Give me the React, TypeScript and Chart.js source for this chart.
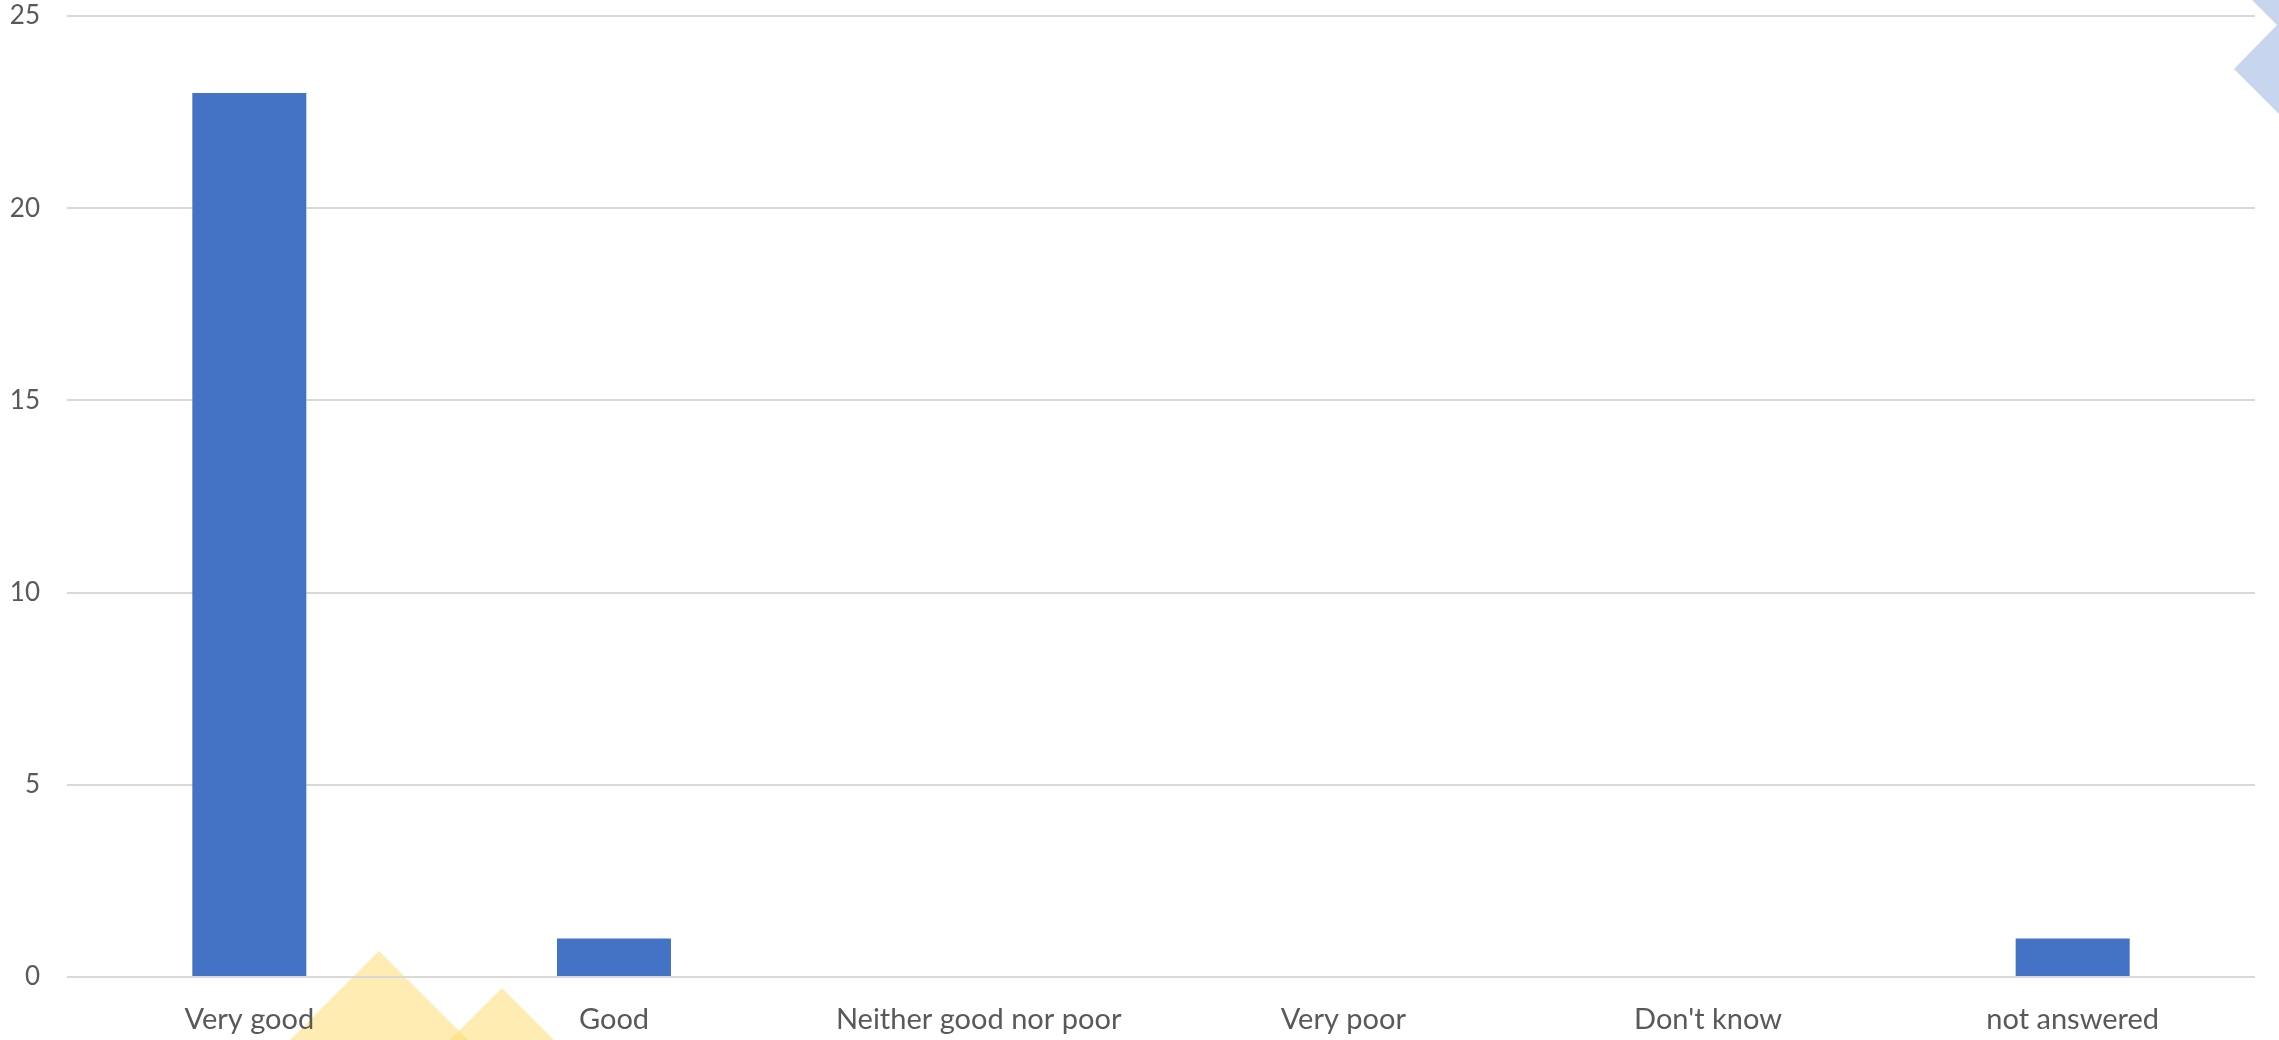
import React, { useEffect, useRef } from "react";
import { Chart, registerables } from "chart.js";

Chart.register(...registerables);

const categories = ["Very good", "Good", "Neither good nor poor", "Very poor", "Don't know", "not answered"];
const responses = [23, 1, 0, 0, 0, 1];
const yTicks = [0, 5, 10, 15, 20, 25];

const W = 2279;
const H = 1040;

const decorPlugin = {
  id: "decor",
  beforeDraw(chart: any) {
    const ctx = chart.ctx as CanvasRenderingContext2D;
    ctx.save();
    ctx.fillStyle = "#ffffff";
    ctx.fillRect(0, 0, W, H);
    // yellow triangles (bottom)
    ctx.fillStyle = "rgba(255, 217, 102, 0.5)";
    const tri = (ax: number, ay: number) => {
      const d = H + 20 - ay;
      ctx.beginPath();
      ctx.moveTo(ax, ay);
      ctx.lineTo(ax + d, ay + d);
      ctx.lineTo(ax - d, ay + d);
      ctx.closePath();
      ctx.fill();
    };
    tri(379, 951);
    tri(502, 988);
    // blue chevron (top right)
    ctx.fillStyle = "#C7D5EE";
    ctx.beginPath();
    ctx.moveTo(2252, 0);
    ctx.lineTo(W, 0);
    ctx.lineTo(W, 114);
    ctx.lineTo(2234, 69);
    ctx.lineTo(2277, 25);
    ctx.closePath();
    ctx.fill();
    ctx.restore();
  },
};

export default function App() {
  const ref = useRef<HTMLCanvasElement>(null);
  useEffect(() => {
    if (!ref.current) return;
    const chart = new Chart(ref.current, {
      type: "bar",
      data: {
        labels: categories,
        datasets: [
          {
            data: responses,
            backgroundColor: "#4472C4",
            barPercentage: 1,
            categoryPercentage: 0.3126,
          },
        ],
      },
      options: {
        animation: false,
        responsive: false,
        maintainAspectRatio: false,
        layout: { padding: { top: 16, right: 24, left: 0, bottom: 0 } },
        plugins: { legend: { display: false }, tooltip: { enabled: false } },
        scales: {
          x: {
            grid: { display: false, drawTicks: false },
            border: { display: false },
            ticks: {
              color: "#595959",
              font: { family: "Lato", size: 29 },
              padding: 25,
              maxRotation: 0,
              autoSkip: false,
            },
            afterFit(scale: any) {
              scale.height = 63;
              scale.paddingLeft = 0;
              scale.paddingRight = 0;
            },
          },
          y: {
            min: 0,
            max: 25,
            afterBuildTicks(scale: any) {
              scale.ticks = yTicks.map((v) => ({ value: v }));
            },
            grid: { color: "#D9D9D9", lineWidth: 2, drawTicks: false },
            border: { display: false },
            ticks: {
              color: "#595959",
              font: { family: "Lato", size: 26 },
              padding: 27,
            },
            afterFit(scale: any) {
              scale.width = 67;
              scale.paddingTop = 0;
              scale.paddingBottom = 0;
            },
          },
        },
      },
      plugins: [decorPlugin],
    });
    return () => chart.destroy();
  }, []);
  return (
    <div style={{ position: "fixed", left: 0, top: 0, width: W, height: H, background: "#fff" }}>
      <canvas ref={ref} width={W} height={H} style={{ width: W, height: H, display: "block" }} />
    </div>
  );
}
